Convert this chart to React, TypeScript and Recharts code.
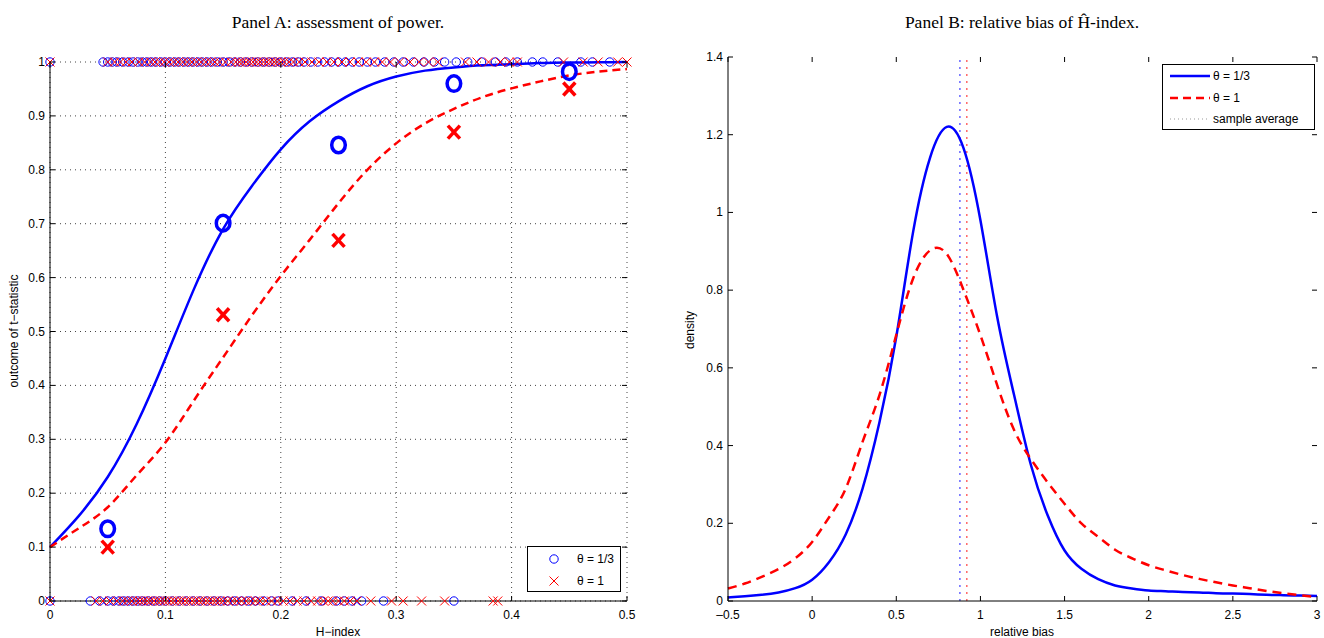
import { ComposedChart, Line, Scatter, XAxis, YAxis, CartesianGrid, ReferenceLine } from "recharts"

const BLUE = "#0000ff"
const RED = "#ff0000"

// Panel A: power of the t-test against the H-index
const hGrid = [0, 0.025, 0.05, 0.075, 0.1, 0.125, 0.15, 0.175, 0.2, 0.225, 0.25, 0.275, 0.3, 0.325, 0.35, 0.375, 0.4, 0.425, 0.45, 0.475, 0.5]
const fitThird = [0.1, 0.158, 0.23, 0.328, 0.45, 0.58, 0.69, 0.77, 0.838, 0.89, 0.927, 0.955, 0.973, 0.984, 0.99, 0.994, 0.996, 0.998, 0.999, 0.9995, 1.0]
const fitOne = [0.1, 0.135, 0.174, 0.233, 0.294, 0.373, 0.452, 0.53, 0.603, 0.67, 0.738, 0.8, 0.849, 0.886, 0.913, 0.935, 0.951, 0.964, 0.975, 0.982, 0.987]

const hBins = [0.05, 0.15, 0.25, 0.35, 0.45]
const powerThird = [0.134, 0.701, 0.846, 0.96, 0.982]
const powerOne = [0.1, 0.531, 0.669, 0.87, 0.95]

// H-index of single samples, by outcome of the test (1 = reject, 0 = accept)
const thirdReject = [0, 0.046, 0.05, 0.054, 0.058, 0.063, 0.068, 0.072, 0.076, 0.08, 0.084, 0.088, 0.092, 0.096, 0.1, 0.104, 0.108, 0.112, 0.116, 0.12, 0.124, 0.128, 0.132, 0.136, 0.14, 0.145, 0.15, 0.155, 0.16, 0.165, 0.17, 0.175, 0.18, 0.185, 0.19, 0.195, 0.2, 0.205, 0.21, 0.215, 0.22, 0.226, 0.232, 0.238, 0.244, 0.25, 0.256, 0.262, 0.268, 0.275, 0.282, 0.29, 0.298, 0.306, 0.315, 0.324, 0.333, 0.342, 0.352, 0.362, 0.374, 0.386, 0.395, 0.405, 0.418, 0.427, 0.44, 0.46, 0.47, 0.485]
const oneReject = [0, 0.05, 0.056, 0.061, 0.066, 0.071, 0.077, 0.082, 0.087, 0.091, 0.095, 0.099, 0.103, 0.107, 0.111, 0.115, 0.119, 0.123, 0.127, 0.131, 0.135, 0.139, 0.143, 0.147, 0.152, 0.157, 0.161, 0.164, 0.167, 0.17, 0.173, 0.176, 0.179, 0.182, 0.185, 0.188, 0.191, 0.194, 0.197, 0.2, 0.203, 0.207, 0.211, 0.216, 0.221, 0.227, 0.233, 0.24, 0.246, 0.253, 0.26, 0.267, 0.274, 0.281, 0.288, 0.295, 0.303, 0.312, 0.32, 0.328, 0.336, 0.36, 0.37, 0.38, 0.39, 0.398, 0.405, 0.445, 0.462, 0.475, 0.492, 0.5]
const thirdAccept = [0, 0.035, 0.043, 0.05, 0.055, 0.06, 0.064, 0.068, 0.072, 0.076, 0.08, 0.085, 0.09, 0.095, 0.1, 0.106, 0.112, 0.118, 0.124, 0.13, 0.136, 0.142, 0.148, 0.154, 0.16, 0.166, 0.172, 0.178, 0.185, 0.192, 0.198, 0.21, 0.222, 0.235, 0.248, 0.255, 0.262, 0.27, 0.289, 0.35]
const oneAccept = [0, 0.04, 0.046, 0.052, 0.058, 0.063, 0.067, 0.071, 0.075, 0.078, 0.081, 0.084, 0.087, 0.09, 0.093, 0.096, 0.099, 0.102, 0.105, 0.108, 0.111, 0.114, 0.117, 0.12, 0.123, 0.126, 0.129, 0.132, 0.135, 0.138, 0.141, 0.144, 0.147, 0.15, 0.154, 0.158, 0.162, 0.166, 0.17, 0.174, 0.178, 0.182, 0.187, 0.192, 0.197, 0.202, 0.208, 0.214, 0.22, 0.226, 0.232, 0.237, 0.241, 0.245, 0.25, 0.255, 0.26, 0.266, 0.278, 0.296, 0.306, 0.322, 0.342, 0.384, 0.388]

const hTicks = [0, 0.1, 0.2, 0.3, 0.4, 0.5]
const powerTicks = [0, 0.1, 0.2, 0.3, 0.4, 0.5, 0.6, 0.7, 0.8, 0.9, 1]

// Panel B: density of relative bias
const biasGrid = [-0.5, -0.4, -0.3, -0.2, -0.1, 0, 0.1, 0.2, 0.3, 0.4, 0.5, 0.6, 0.7, 0.8, 0.9, 1, 1.1, 1.2, 1.3, 1.4, 1.5, 1.6, 1.7, 1.8, 1.9, 2, 2.1, 2.2, 2.3, 2.4, 2.5, 2.6, 2.7, 2.8, 2.9, 3]
const densThird = [0.009, 0.012, 0.016, 0.022, 0.033, 0.055, 0.1, 0.172, 0.29, 0.46, 0.68, 0.95, 1.14, 1.22, 1.165, 0.98, 0.73, 0.53, 0.35, 0.22, 0.13, 0.083, 0.056, 0.04, 0.032, 0.027, 0.025, 0.023, 0.022, 0.02, 0.019, 0.018, 0.016, 0.015, 0.014, 0.013]
const densOne = [0.032, 0.045, 0.062, 0.082, 0.11, 0.152, 0.215, 0.29, 0.41, 0.53, 0.685, 0.83, 0.902, 0.893, 0.8, 0.684, 0.555, 0.44, 0.365, 0.305, 0.25, 0.2, 0.165, 0.132, 0.11, 0.092, 0.079, 0.067, 0.057, 0.048, 0.04, 0.033, 0.026, 0.02, 0.015, 0.01]
const sampleAvg = [0.878, 0.919]

const biasTicks = [-0.5, 0, 0.5, 1, 1.5, 2, 2.5, 3]
const densTicks = [0, 0.2, 0.4, 0.6, 0.8, 1, 1.2, 1.4]

const pairs = (xs: number[], ys: number[]) => xs.map((x, i) => ({ x, y: ys[i] }))
const flat = (xs: number[], y: number) => xs.map((x) => ({ x, y }))

const sans = "'Liberation Sans', Arial, Helvetica, sans-serif"
const tickFont = { fontFamily: sans, fontSize: 12, fill: "#000" }

const fmt = (v: number) => (v < 0 ? "\u2013" + String(-v) : String(v))

// MATLAB style ticks: pointing inwards, on both sides of the box
function xTick(top: number, bottom: number) {
  return (p: any) => (
    <g>
      <line x1={p.x} x2={p.x} y1={bottom} y2={bottom - 5} stroke="#000" />
      <line x1={p.x} x2={p.x} y1={top} y2={top + 5} stroke="#000" />
      <text x={p.x} y={bottom + 18} textAnchor="middle" style={tickFont}>{fmt(p.payload.value)}</text>
    </g>
  )
}

function yTick(left: number, right: number) {
  return (p: any) => (
    <g>
      <line x1={left} x2={left + 5} y1={p.y} y2={p.y} stroke="#000" />
      <line x1={right} x2={right - 5} y1={p.y} y2={p.y} stroke="#000" />
      <text x={left - 5} y={p.y + 4} textAnchor="end" style={tickFont}>{fmt(p.payload.value)}</text>
    </g>
  )
}

const smallCircle = (p: any) => <circle cx={p.cx} cy={p.cy} r={4.2} fill="none" stroke={BLUE} strokeWidth={1} />
const smallCross = (p: any) => (
  <g stroke={RED} strokeWidth={1}>
    <line x1={p.cx - 4.5} y1={p.cy - 4.5} x2={p.cx + 4.5} y2={p.cy + 4.5} />
    <line x1={p.cx - 4.5} y1={p.cy + 4.5} x2={p.cx + 4.5} y2={p.cy - 4.5} />
  </g>
)
const bigCircle = (p: any) => <ellipse cx={p.cx} cy={p.cy} rx={6.8} ry={7.8} fill="none" stroke={BLUE} strokeWidth={3.5} />
const bigCross = (p: any) => (
  <g stroke={RED} strokeWidth={3.5}>
    <line x1={p.cx - 6} y1={p.cy - 6.5} x2={p.cx + 6} y2={p.cy + 6.5} />
    <line x1={p.cx - 6} y1={p.cy + 6.5} x2={p.cx + 6} y2={p.cy - 6.5} />
  </g>
)

const label = (text: string, left: number, top: number, rotate = false) => (
  <div
    style={{
      position: "absolute",
      left,
      top,
      transform: `translate(-50%, -50%)${rotate ? " rotate(-90deg)" : ""}`,
      fontFamily: sans,
      fontSize: 12,
      whiteSpace: "nowrap",
    }}
  >
    {text}
  </div>
)

const title = (text: string, left: number) => (
  <div
    style={{
      position: "absolute",
      left,
      top: 22,
      transform: "translate(-50%, -50%)",
      fontFamily: "'Liberation Serif', 'DejaVu Serif', serif",
      fontSize: 17.5,
      whiteSpace: "nowrap",
    }}
  >
    {text}
  </div>
)

function PanelA() {
  const top = 62
  const bottom = 601
  const left = 50
  const right = 627
  return (
    <div style={{ position: "absolute", left: 0, top: 0 }}>
      <ComposedChart width={640} height={638} margin={{ top, right: 640 - right, bottom: 7, left: 10 }}>
        <CartesianGrid stroke="#444" strokeDasharray="1 4" />
        <XAxis dataKey="x" type="number" domain={[0, 0.5]} ticks={hTicks} height={30} tickSize={0} tickMargin={0}
          stroke="#000" tick={xTick(top, bottom)} tickLine={false} />
        <XAxis xAxisId="top" orientation="top" type="number" domain={[0, 0.5]} height={0} tick={false} tickLine={false} stroke="#000" />
        <YAxis dataKey="y" type="number" domain={[0, 1]} ticks={powerTicks} width={40} tickSize={0} tickMargin={0}
          stroke="#000" tick={yTick(left, right)} tickLine={false} />
        <YAxis yAxisId="right" orientation="right" type="number" domain={[0, 1]} width={0} tick={false} tickLine={false} stroke="#000" />
        <Scatter data={flat(thirdReject, 1)} dataKey="y" shape={smallCircle} isAnimationActive={false} />
        <Scatter data={flat(oneReject, 1)} dataKey="y" shape={smallCross} isAnimationActive={false} />
        <Scatter data={flat(thirdAccept, 0)} dataKey="y" shape={smallCircle} isAnimationActive={false} />
        <Scatter data={flat(oneAccept, 0)} dataKey="y" shape={smallCross} isAnimationActive={false} />
        <Line data={pairs(hGrid, fitThird)} dataKey="y" type="natural" stroke={BLUE} strokeWidth={2.5} dot={false} isAnimationActive={false} />
        <Line data={pairs(hGrid, fitOne)} dataKey="y" type="natural" stroke={RED} strokeWidth={2.5} strokeDasharray="8 5" dot={false} isAnimationActive={false} />
        <Scatter data={pairs(hBins, powerThird)} dataKey="y" shape={bigCircle} isAnimationActive={false} />
        <Scatter data={pairs(hBins, powerOne)} dataKey="y" shape={bigCross} isAnimationActive={false} />
      </ComposedChart>
      <svg style={{ position: "absolute", left: 527, top: 546 }} width={95} height={47}>
        <rect x={0.5} y={0.5} width={93} height={45} fill="#fff" stroke="#000" />
        {smallCircle({ cx: 27, cy: 13 })}
        <text x={50} y={17} style={tickFont}>θ = 1/3</text>
        {smallCross({ cx: 27, cy: 35 })}
        <text x={50} y={39} style={tickFont}>θ = 1</text>
      </svg>
    </div>
  )
}

function PanelB() {
  const top = 57
  const bottom = 601
  const left = 68
  const right = 657
  return (
    <div style={{ position: "absolute", left: 660, top: 0 }}>
      <ComposedChart width={664} height={638} margin={{ top, right: 664 - right, bottom: 7, left: 28 }}>
        <XAxis dataKey="x" type="number" domain={[-0.5, 3]} ticks={biasTicks} height={30} tickSize={0} tickMargin={0}
          stroke="#000" tick={xTick(top, bottom)} tickLine={false} />
        <XAxis xAxisId="top" orientation="top" type="number" domain={[-0.5, 3]} height={0} tick={false} tickLine={false} stroke="#000" />
        <YAxis dataKey="y" type="number" domain={[0, 1.4]} ticks={densTicks} width={40} tickSize={0} tickMargin={0}
          stroke="#000" tick={yTick(left, right)} tickLine={false} />
        <YAxis yAxisId="right" orientation="right" type="number" domain={[0, 1.4]} width={0} tick={false} tickLine={false} stroke="#000" />
        <ReferenceLine x={sampleAvg[0]} stroke={BLUE} strokeOpacity={0.6} strokeWidth={1.5} strokeDasharray="2 5" />
        <ReferenceLine x={sampleAvg[1]} stroke={RED} strokeOpacity={0.6} strokeWidth={1.5} strokeDasharray="2 5" />
        <Line data={pairs(biasGrid, densThird)} dataKey="y" type="natural" stroke={BLUE} strokeWidth={2.5} dot={false} isAnimationActive={false} />
        <Line data={pairs(biasGrid, densOne)} dataKey="y" type="natural" stroke={RED} strokeWidth={2.5} strokeDasharray="9 6" dot={false} isAnimationActive={false} />
      </ComposedChart>
      <svg style={{ position: "absolute", left: 502, top: 64 }} width={154} height={67}>
        <rect x={0.5} y={0.5} width={152} height={65} fill="#fff" stroke="#000" />
        <line x1={8} x2={48} y1={12} y2={12} stroke={BLUE} strokeWidth={2.5} />
        <text x={51} y={16} style={tickFont}>θ = 1/3</text>
        <line x1={8} x2={48} y1={34} y2={34} stroke={RED} strokeWidth={2.5} strokeDasharray="8 5" />
        <text x={51} y={38} style={tickFont}>θ = 1</text>
        <line x1={8} x2={48} y1={55} y2={55} stroke="#999" strokeWidth={1} strokeDasharray="1 3" />
        <text x={51} y={59} style={tickFont}>sample average</text>
      </svg>
    </div>
  )
}

export default function App() {
  return (
    <div style={{ position: "absolute", left: 0, top: 0, width: 1324, height: 638, background: "#fff" }}>
      {title("Panel A: assessment of power.", 338)}
      {title("Panel B: relative bias of \u0124-index.", 1022)}
      <PanelA />
      <PanelB />
      {label("H\u2212index", 338, 632)}
      {label("outcome of t\u2212statistic", 14, 331, true)}
      {label("relative bias", 1022, 632)}
      {label("density", 690, 330, true)}
    </div>
  )
}
